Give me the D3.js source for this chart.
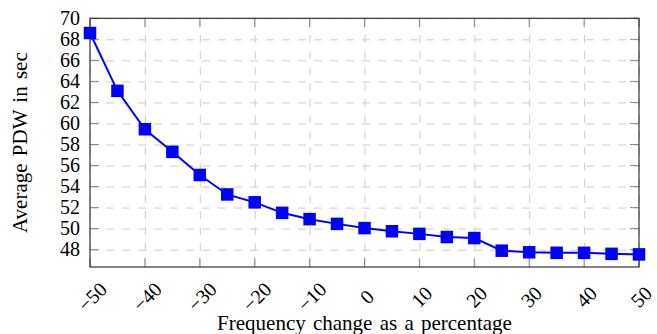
<!DOCTYPE html>
<html>
<head>
<meta charset="utf-8">
<script src="https://cdn.jsdelivr.net/npm/d3@7"></script>
<style>
body { margin: 0; background: #fff; }
text { font-family: "Liberation Serif", "Times New Roman", serif; }
</style>
</head>
<body>
<div id="app"></div>
<script>
// frequency change (%) and average PDW (sec)
const freqChange = [-50, -45, -40, -35, -30, -25, -20, -15, -10, -5, 0, 5, 10, 15, 20, 25, 30, 35, 40, 45, 50]
const avgPdw = [68.6, 63.1, 59.45, 57.3, 55.1, 53.25, 52.5, 51.5, 50.9, 50.45, 50.05, 49.75, 49.5, 49.2, 49.1, 47.9, 47.75, 47.7, 47.7, 47.6, 47.55]
const xTicks = [-50, -40, -30, -20, -10, 0, 10, 20, 30, 40, 50]
const yTicks = [48, 50, 52, 54, 56, 58, 60, 62, 64, 66, 68, 70]

const W = 657, H = 334
const mLeft = 90, mRight = 639, mTop = 18.3, mBottom = 267

const fx = d3.scaleLinear().domain([-50, 50]).range([mLeft, mRight])
const fy = d3.scaleLinear().domain([46.35, 70]).range([mBottom, mTop])
const fmt = d3.format("")

const svg = d3.select("#app").append("svg")
  .attr("width", W)
  .attr("height", H)

// dashed grid
svg.append("g")
    .attr("transform", `translate(0,${mBottom})`)
    .call(d3.axisBottom(fx).tickValues(xTicks).tickSize(-(mBottom - mTop)).tickFormat(""))
    .call(g => g.select(".domain").remove())
    .selectAll("line")
      .attr("stroke", "#cccccc")
      .attr("stroke-dasharray", "8,8")

svg.append("g")
    .attr("transform", `translate(${mLeft},0)`)
    .call(d3.axisLeft(fy).tickValues(yTicks).tickSize(-(mRight - mLeft)).tickFormat(""))
    .call(g => g.select(".domain").remove())
    .selectAll("line")
      .attr("stroke", "#cccccc")
      .attr("stroke-dasharray", "8,8")

// inward ticks on all four sides
const tickLen = 9
const tk = svg.append("g").attr("stroke", "#8a8a8a").attr("stroke-width", 1)
tk.selectAll(".tb")
  .data(xTicks)
  .join("line")
    .attr("x1", d => fx(d)).attr("x2", d => fx(d))
    .attr("y1", mBottom).attr("y2", mBottom - tickLen)
tk.selectAll(".tt")
  .data(xTicks)
  .join("line")
    .attr("x1", d => fx(d)).attr("x2", d => fx(d))
    .attr("y1", mTop).attr("y2", mTop + tickLen)
tk.selectAll(".tl")
  .data(yTicks)
  .join("line")
    .attr("x1", mLeft).attr("x2", mLeft + tickLen)
    .attr("y1", d => fy(d)).attr("y2", d => fy(d))
tk.selectAll(".tr")
  .data(yTicks)
  .join("line")
    .attr("x1", mRight).attr("x2", mRight - tickLen)
    .attr("y1", d => fy(d)).attr("y2", d => fy(d))

// frame
svg.append("rect")
    .attr("x", mLeft)
    .attr("y", mTop)
    .attr("width", mRight - mLeft)
    .attr("height", mBottom - mTop)
    .attr("fill", "none")
    .attr("stroke", "#333")
    .attr("stroke-width", 1.2)

// tick labels
svg.append("g")
    .attr("font-size", 20)
  .selectAll("text")
  .data(yTicks)
  .join("text")
    .attr("x", mLeft - 10)
    .attr("y", d => fy(d))
    .attr("dy", "0.33em")
    .attr("text-anchor", "end")
    .text(fmt)

svg.append("g")
    .attr("font-size", 20)
  .selectAll("text")
  .data(xTicks)
  .join("text")
    .attr("transform", d => `translate(${fx(d) + 2.5},297) rotate(-45)`)
    .attr("dy", "0.33em")
    .attr("text-anchor", "middle")
    .text(fmt)

// axis titles
svg.append("text")
    .attr("x", (mLeft + mRight) / 2)
    .attr("y", 330)
    .attr("text-anchor", "middle")
    .attr("font-size", 21)
    .attr("word-spacing", 2)
    .text("Frequency change as a percentage")

svg.append("text")
    .attr("transform", `translate(27,${(mTop + mBottom) / 2}) rotate(-90)`)
    .attr("text-anchor", "middle")
    .attr("font-size", 21)
    .attr("word-spacing", 2)
    .text("Average PDW in sec")

// series
const pts = freqChange.map((f, i) => [f, avgPdw[i]])
svg.append("path")
    .datum(pts)
    .attr("fill", "none")
    .attr("stroke", "#0000ff")
    .attr("stroke-width", 2)
    .attr("d", d3.line().x(d => fx(d[0])).y(d => fy(d[1])))

const ms = 12.5
svg.append("g")
    .attr("fill", "#0000ff")
  .selectAll("rect")
  .data(pts)
  .join("rect")
    .attr("x", d => fx(d[0]) - ms / 2)
    .attr("y", d => fy(d[1]) - ms / 2)
    .attr("width", ms)
    .attr("height", ms)
</script>
</body>
</html>
